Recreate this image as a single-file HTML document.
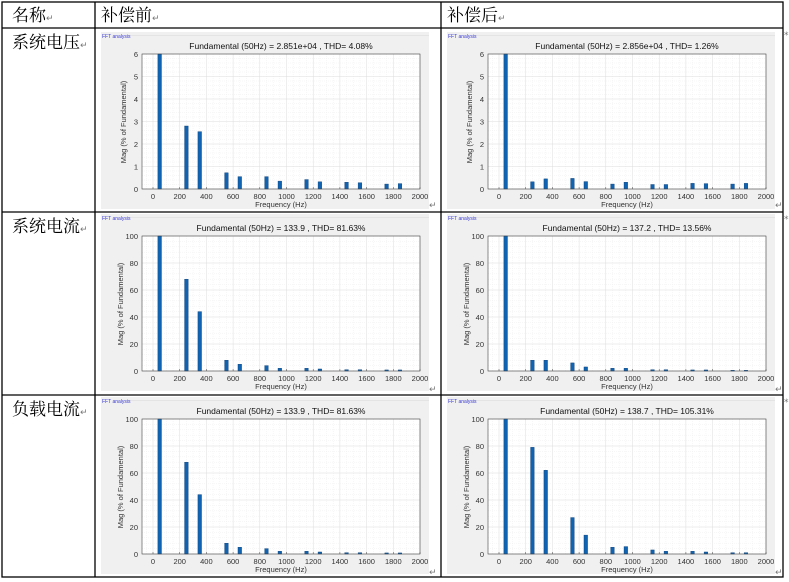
<!DOCTYPE html>
<html><head><meta charset="utf-8"><style>
html,body{margin:0;padding:0;background:#fff;width:789px;height:582px;overflow:hidden}
svg{display:block}
.cn{font-family:"Liberation Serif","Noto Serif CJK SC",serif;font-size:17px;fill:#000}
.t{font-family:"Liberation Sans",sans-serif;font-size:7.5px;fill:#333}
.yl{font-family:"Liberation Sans",sans-serif;font-size:7.5px;fill:#333}
.tt{font-family:"Liberation Sans",sans-serif;font-size:8.5px;fill:#111}
.fa{font-family:"Liberation Sans",sans-serif;font-size:5px;fill:#3a3ad0}
.rm{font-family:"DejaVu Sans",sans-serif;font-size:9px;fill:#777}
</style></head><body>
<svg id="s" width="789" height="582" xmlns="http://www.w3.org/2000/svg">
<rect width="789" height="582" fill="#fff"/>
<g stroke="#000" stroke-width="1.3" fill="none">
<rect x="2" y="2" width="781" height="575"/>
<line x1="2" y1="28" x2="783" y2="28"/>
<line x1="2" y1="212" x2="783" y2="212"/>
<line x1="2" y1="395" x2="783" y2="395"/>
<line x1="95" y1="2" x2="95" y2="577"/>
<line x1="441" y1="2" x2="441" y2="577"/>
</g>
<text class="cn" x="12" y="21">名称<tspan class="rm">↵</tspan></text>
<text class="cn" x="101" y="21">补偿前<tspan class="rm">↵</tspan></text>
<text class="cn" x="447" y="21">补偿后<tspan class="rm">↵</tspan></text>
<text class="cn" x="12" y="48">系统电压<tspan class="rm">↵</tspan></text>
<text class="cn" x="12" y="232">系统电流<tspan class="rm">↵</tspan></text>
<text class="cn" x="12" y="415">负载电流<tspan class="rm">↵</tspan></text>
<text class="rm" x="784" y="38">*</text>
<text class="rm" x="784" y="222">*</text>
<text class="rm" x="784" y="405">*</text>
<text class="rm" x="429" y="208">↵</text><text class="rm" x="775" y="208">↵</text>
<text class="rm" x="429" y="392">↵</text><text class="rm" x="775" y="392">↵</text>
<text class="rm" x="429" y="575">↵</text><text class="rm" x="775" y="575">↵</text>

<g id="c0" transform="translate(101,32)">
<g class="bg"></g>
<text class="fa" x="1" y="6">FFT analysis</text>
<text class="tt" x="180" y="17" text-anchor="middle">Fundamental (50Hz) = 2.851e+04 , THD= 4.08%</text>
<g class="t" text-anchor="end"><text x="37" y="160">0</text><text x="37" y="137.5">1</text><text x="37" y="115">2</text><text x="37" y="92.5">3</text><text x="37" y="70">4</text><text x="37" y="47.5">5</text><text x="37" y="25">6</text></g>
<g class="t" text-anchor="middle"><text x="52" y="167">0</text><text x="78.7" y="167">200</text><text x="105.4" y="167">400</text><text x="132.1" y="167">600</text><text x="158.8" y="167">800</text><text x="185.5" y="167">1000</text><text x="212.2" y="167">1200</text><text x="238.9" y="167">1400</text><text x="265.6" y="167">1600</text><text x="292.3" y="167">1800</text><text x="319" y="167">2000</text></g>
<text class="t" x="180" y="175" text-anchor="middle">Frequency (Hz)</text>
<text class="yl" transform="translate(25,90) rotate(-90)" text-anchor="middle">Mag (% of Fundamental)</text>
</g>

<g id="c1" transform="translate(447,32)">
<g class="bg"></g>
<text class="fa" x="1" y="6">FFT analysis</text>
<text class="tt" x="180" y="17" text-anchor="middle">Fundamental (50Hz) = 2.856e+04 , THD= 1.26%</text>
<g class="t" text-anchor="end"><text x="37" y="160">0</text><text x="37" y="137.5">1</text><text x="37" y="115">2</text><text x="37" y="92.5">3</text><text x="37" y="70">4</text><text x="37" y="47.5">5</text><text x="37" y="25">6</text></g>
<g class="t" text-anchor="middle"><text x="52" y="167">0</text><text x="78.7" y="167">200</text><text x="105.4" y="167">400</text><text x="132.1" y="167">600</text><text x="158.8" y="167">800</text><text x="185.5" y="167">1000</text><text x="212.2" y="167">1200</text><text x="238.9" y="167">1400</text><text x="265.6" y="167">1600</text><text x="292.3" y="167">1800</text><text x="319" y="167">2000</text></g>
<text class="t" x="180" y="175" text-anchor="middle">Frequency (Hz)</text>
<text class="yl" transform="translate(25,90) rotate(-90)" text-anchor="middle">Mag (% of Fundamental)</text>
</g>

<g id="c2" transform="translate(101,214)">
<g class="bg"></g>
<text class="fa" x="1" y="6">FFT analysis</text>
<text class="tt" x="180" y="17" text-anchor="middle">Fundamental (50Hz) = 133.9 , THD= 81.63%</text>
<g class="t" text-anchor="end"><text x="37" y="160">0</text><text x="37" y="133">20</text><text x="37" y="106">40</text><text x="37" y="79">60</text><text x="37" y="52">80</text><text x="37" y="25">100</text></g>
<g class="t" text-anchor="middle"><text x="52" y="167">0</text><text x="78.7" y="167">200</text><text x="105.4" y="167">400</text><text x="132.1" y="167">600</text><text x="158.8" y="167">800</text><text x="185.5" y="167">1000</text><text x="212.2" y="167">1200</text><text x="238.9" y="167">1400</text><text x="265.6" y="167">1600</text><text x="292.3" y="167">1800</text><text x="319" y="167">2000</text></g>
<text class="t" x="180" y="175" text-anchor="middle">Frequency (Hz)</text>
<text class="yl" transform="translate(22,90) rotate(-90)" text-anchor="middle">Mag (% of Fundamental)</text>
</g>

<g id="c3" transform="translate(447,214)">
<g class="bg"></g>
<text class="fa" x="1" y="6">FFT analysis</text>
<text class="tt" x="180" y="17" text-anchor="middle">Fundamental (50Hz) = 137.2 , THD= 13.56%</text>
<g class="t" text-anchor="end"><text x="37" y="160">0</text><text x="37" y="133">20</text><text x="37" y="106">40</text><text x="37" y="79">60</text><text x="37" y="52">80</text><text x="37" y="25">100</text></g>
<g class="t" text-anchor="middle"><text x="52" y="167">0</text><text x="78.7" y="167">200</text><text x="105.4" y="167">400</text><text x="132.1" y="167">600</text><text x="158.8" y="167">800</text><text x="185.5" y="167">1000</text><text x="212.2" y="167">1200</text><text x="238.9" y="167">1400</text><text x="265.6" y="167">1600</text><text x="292.3" y="167">1800</text><text x="319" y="167">2000</text></g>
<text class="t" x="180" y="175" text-anchor="middle">Frequency (Hz)</text>
<text class="yl" transform="translate(22,90) rotate(-90)" text-anchor="middle">Mag (% of Fundamental)</text>
</g>

<g id="c4" transform="translate(101,397)">
<g class="bg"></g>
<text class="fa" x="1" y="6">FFT analysis</text>
<text class="tt" x="180" y="17" text-anchor="middle">Fundamental (50Hz) = 133.9 , THD= 81.63%</text>
<g class="t" text-anchor="end"><text x="37" y="160">0</text><text x="37" y="133">20</text><text x="37" y="106">40</text><text x="37" y="79">60</text><text x="37" y="52">80</text><text x="37" y="25">100</text></g>
<g class="t" text-anchor="middle"><text x="52" y="167">0</text><text x="78.7" y="167">200</text><text x="105.4" y="167">400</text><text x="132.1" y="167">600</text><text x="158.8" y="167">800</text><text x="185.5" y="167">1000</text><text x="212.2" y="167">1200</text><text x="238.9" y="167">1400</text><text x="265.6" y="167">1600</text><text x="292.3" y="167">1800</text><text x="319" y="167">2000</text></g>
<text class="t" x="180" y="175" text-anchor="middle">Frequency (Hz)</text>
<text class="yl" transform="translate(22,90) rotate(-90)" text-anchor="middle">Mag (% of Fundamental)</text>
</g>

<g id="c5" transform="translate(447,397)">
<g class="bg"></g>
<text class="fa" x="1" y="6">FFT analysis</text>
<text class="tt" x="180" y="17" text-anchor="middle">Fundamental (50Hz) = 138.7 , THD= 105.31%</text>
<g class="t" text-anchor="end"><text x="37" y="160">0</text><text x="37" y="133">20</text><text x="37" y="106">40</text><text x="37" y="79">60</text><text x="37" y="52">80</text><text x="37" y="25">100</text></g>
<g class="t" text-anchor="middle"><text x="52" y="167">0</text><text x="78.7" y="167">200</text><text x="105.4" y="167">400</text><text x="132.1" y="167">600</text><text x="158.8" y="167">800</text><text x="185.5" y="167">1000</text><text x="212.2" y="167">1200</text><text x="238.9" y="167">1400</text><text x="265.6" y="167">1600</text><text x="292.3" y="167">1800</text><text x="319" y="167">2000</text></g>
<text class="t" x="180" y="175" text-anchor="middle">Frequency (Hz)</text>
<text class="yl" transform="translate(22,90) rotate(-90)" text-anchor="middle">Mag (% of Fundamental)</text>
</g>
</svg>
<script>
var NS="http://www.w3.org/2000/svg";
var F=[50,250,350,550,650,850,950,1150,1250,1450,1550,1750,1850];
var C=[
 {m:6,t:1,d:[6,2.8,2.55,0.72,0.55,0.55,0.35,0.42,0.32,0.3,0.28,0.22,0.24]},
 {m:6,t:1,d:[6,0.32,0.45,0.47,0.33,0.22,0.3,0.2,0.2,0.25,0.24,0.22,0.25]},
 {m:100,t:20,d:[100,68,44,8,5,4,2,2,1.5,1,1,0.8,0.8]},
 {m:100,t:20,d:[100,8,8,6,3,2,2,1,1,0.8,0.8,0.5,0.5]},
 {m:100,t:20,d:[100,68,44,8,5,4,2,2,1.5,1,1,0.8,0.8]},
 {m:100,t:20,d:[100,79,62,27,14,5,5.5,3,2,2,1.5,1,1]}];
function el(p,n,a){var e=document.createElementNS(NS,n);for(var k in a)e.setAttribute(k,a[k]);p.appendChild(e);return e;}
var L=41,R=319,T=22,B=157,X0=52,S=(319-52)/2000;
C.forEach(function(c,i){
 var g=document.querySelector("#c"+i+" .bg");
 el(g,"rect",{x:0,y:0,width:328,height:177,fill:"#f0f0f0"});
 el(g,"line",{x1:26,y1:3.5,x2:328,y2:3.5,stroke:"#d8d8d8","stroke-width":0.6});
 el(g,"rect",{x:L,y:T,width:R-L,height:B-T,fill:"#fff"});
 for(var v=-100;v<=2000;v+=50){var x=X0+v*S;if(x<=L)continue;el(g,"line",{x1:x,y1:T,x2:x,y2:B,stroke:v%200==0?"#dcdcdc":"#efefef","stroke-width":0.5,"stroke-dasharray":v%200==0?"":"1,1"});}
 var step=c.t/5;
 for(var k=0;k<=c.m/step;k++){var y=B-k*step/c.m*(B-T);el(g,"line",{x1:L,y1:y,x2:R,y2:y,stroke:k%5==0?"#dcdcdc":"#efefef","stroke-width":0.5,"stroke-dasharray":k%5==0?"":"1,1"});}
 c.d.forEach(function(v,j){var h=v/c.m*(B-T),x=X0+F[j]*S;el(g,"rect",{x:x-1.8,y:B-h,width:3.6,height:h,fill:"#0f63b0",stroke:"#0a3f78","stroke-width":0.4});});
 el(g,"rect",{x:L,y:T,width:R-L,height:B-T,fill:"none",stroke:"#444","stroke-width":0.6});
 for(var v=0;v<=2000;v+=200){var x=X0+v*S;el(g,"line",{x1:x,y1:B,x2:x,y2:B-2,stroke:"#444","stroke-width":0.5});}
});
</script>
</body></html>
